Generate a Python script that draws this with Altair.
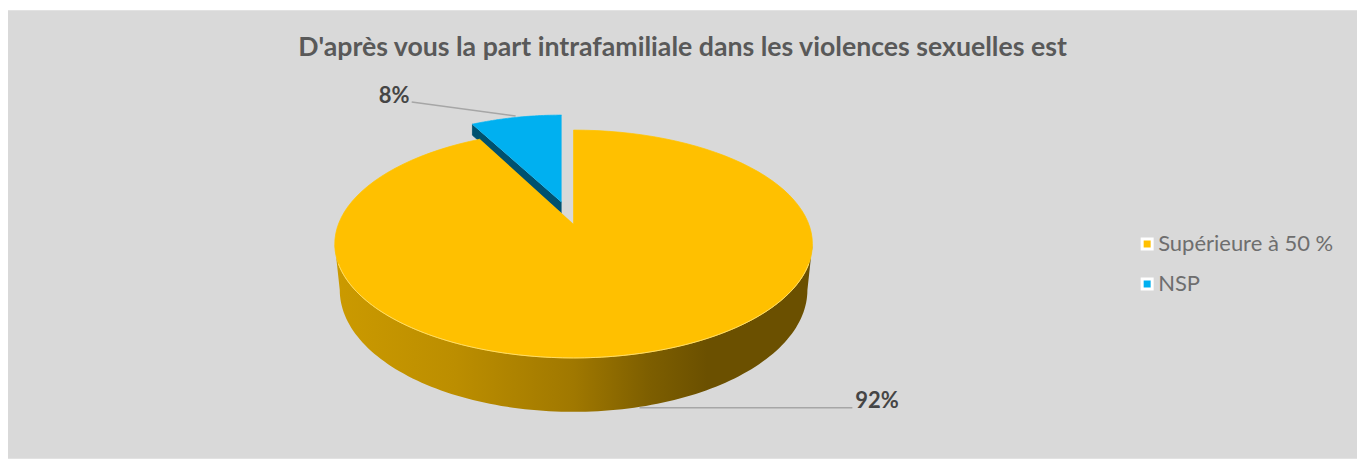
import math
import altair as alt
import pandas as pd

TITLE = "D'après vous la part intrafamiliale dans les violences sexuelles est"
CATEGORIES = ["Supérieure à 50 %", "NSP"]
SHARES = [92, 8]
LABELS = ["92%", "8%"]
COLORS = ["#FFC000", "#00B0F0"]

W, H = 1350, 449
OX, OY = 8, 10            # page position of the plot origin
CX, CY, RX, RY = 574, 244, 239, 114   # top face ellipse
APEX_Y = 224
FORE = 0.8                # foreshortening of the angle in the tilted view
LOW_CY, LOW_RX, LOW_RY = 290, 234, 122  # lower rim of the drum
BX, BY, BRX, BAPEX_Y, BDEPTH = 562, 229, 228, 202, 11


def rim(cx, cy, rx, ry, t0, t1, n=120):
    out = []
    for i in range(n + 1):
        t = math.radians(t0 + (t1 - t0) * i / n)
        out.append((cx + rx * math.sin(t), cy - ry * math.cos(t)))
    return out


def frame(points, cat=None):
    d = pd.DataFrame(points, columns=["px", "py"])
    d["x"] = d["px"] - OX
    d["y"] = d["py"] - OY
    d["o"] = range(len(d))
    if cat is not None:
        d["cat"] = cat
    return d


gap = SHARES[1] / sum(SHARES) * 360 * FORE
main_top = [(CX, APEX_Y)] + rim(CX, CY, RX, RY, 0, 360 - gap)
nsp_arc = rim(BX, BY, BRX, RY, -gap, 0, 30)
nsp_top = [(BX, BAPEX_Y)] + nsp_arc
nsp_side = [(BX, BAPEX_Y), nsp_arc[0], (nsp_arc[0][0], nsp_arc[0][1] + BDEPTH), (BX, BAPEX_Y + BDEPTH)]
drum = rim(CX, CY, RX, RY, 90, 270) + rim(CX, LOW_CY, LOW_RX, LOW_RY, 270, 90)
front_rim = rim(CX, CY, RX, RY, 100, 260)

xs = alt.Scale(domain=[0, W], range=[0, W])
ys = alt.Scale(domain=[0, H], range=[0, H])
X = alt.X("x:Q", scale=xs, axis=None)
Y = alt.Y("y:Q", scale=ys, axis=None)

side_fill = alt.Gradient(
    gradient="linear", x1=0, x2=1, y1=0, y2=0,
    stops=[
        alt.GradientStop(color="#CB9A00", offset=0),
        alt.GradientStop(color="#BC8E00", offset=0.25),
        alt.GradientStop(color="#A07800", offset=0.5),
        alt.GradientStop(color="#7D5E00", offset=0.66),
        alt.GradientStop(color="#6B5000", offset=0.78),
        alt.GradientStop(color="#6B5000", offset=1),
    ],
)


def poly(points, strokeWidth=0.8, **mark):
    return alt.Chart(frame(points)).mark_line(strokeWidth=strokeWidth, **mark).encode(
        x=X, y=Y, order="o:Q"
    )


tops = pd.concat([frame(main_top, CATEGORIES[0]), frame(nsp_top, CATEGORIES[1])])
top_layer = (
    alt.Chart(tops)
    .mark_line(strokeWidth=0)
    .encode(
        x=X,
        y=Y,
        order="o:Q",
        detail="cat:N",
        fill=alt.Fill(
            "cat:N",
            scale=alt.Scale(domain=CATEGORIES, range=COLORS),
            legend=alt.Legend(
                title=None,
                orient="none",
                legendX=1129,
                legendY=223,
                symbolType="square",
                symbolSize=100,
                symbolStrokeColor="#FFFFFF",
                symbolStrokeWidth=3,
                labelFont="Lato",
                labelFontSize=22,
                labelColor="#6E6E6E",
                labelOffset=0,
                labelLimit=300,
                rowPadding=18,
                padding=0,
            ),
        ),
    )
)

leaders = pd.DataFrame(
    {"x": [412 - OX, 640 - OX], "x2": [516 - OX, 853 - OX], "y": [102 - OY, 408 - OY], "y2": [116 - OY, 408 - OY]}
)
leader_layer = alt.Chart(leaders).mark_rule(color="#A6A6A6", strokeWidth=1.5).encode(
    x=X, x2="x2:Q", y=Y, y2="y2:Q"
)

texts = pd.DataFrame({"x": [856 - OX, 379 - OX], "y": [401 - OY, 96 - OY], "t": LABELS})
text_layer = alt.Chart(texts).mark_text(
    align="left", baseline="middle", font="Lato", fontSize=22, fontWeight="bold", color="#454545"
).encode(x=X, y=Y, text="t:N")

chart = (
    alt.layer(
        leader_layer,
        poly(nsp_side, fill="#00516F", stroke="#00516F"),
        poly(nsp_top, stroke="#3CC4F2", strokeWidth=1),
        poly(drum, fill=side_fill, strokeWidth=0),
        poly(main_top, stroke="#FFC90A", strokeWidth=0.8),
        top_layer,
        poly(front_rim, stroke="#FFDF70", strokeWidth=0.9),
        text_layer,
    )
    .properties(
        width=W,
        height=H,
        padding={"top": 2, "left": 0, "right": 0, "bottom": 0},
        autosize=alt.AutoSizeParams(type="none"),
        background="#FFFFFF",
        title=alt.TitleParams(
            TITLE, font="Lato", fontSize=26.7, fontWeight="bold", color="#595959",
            anchor="middle", dy=52, offset=0,
        ),
    )
    .configure_view(fill="#D9D9D9", stroke=None)
)
chart.save("out.html", embed_options={"renderer": "svg", "actions": False})
